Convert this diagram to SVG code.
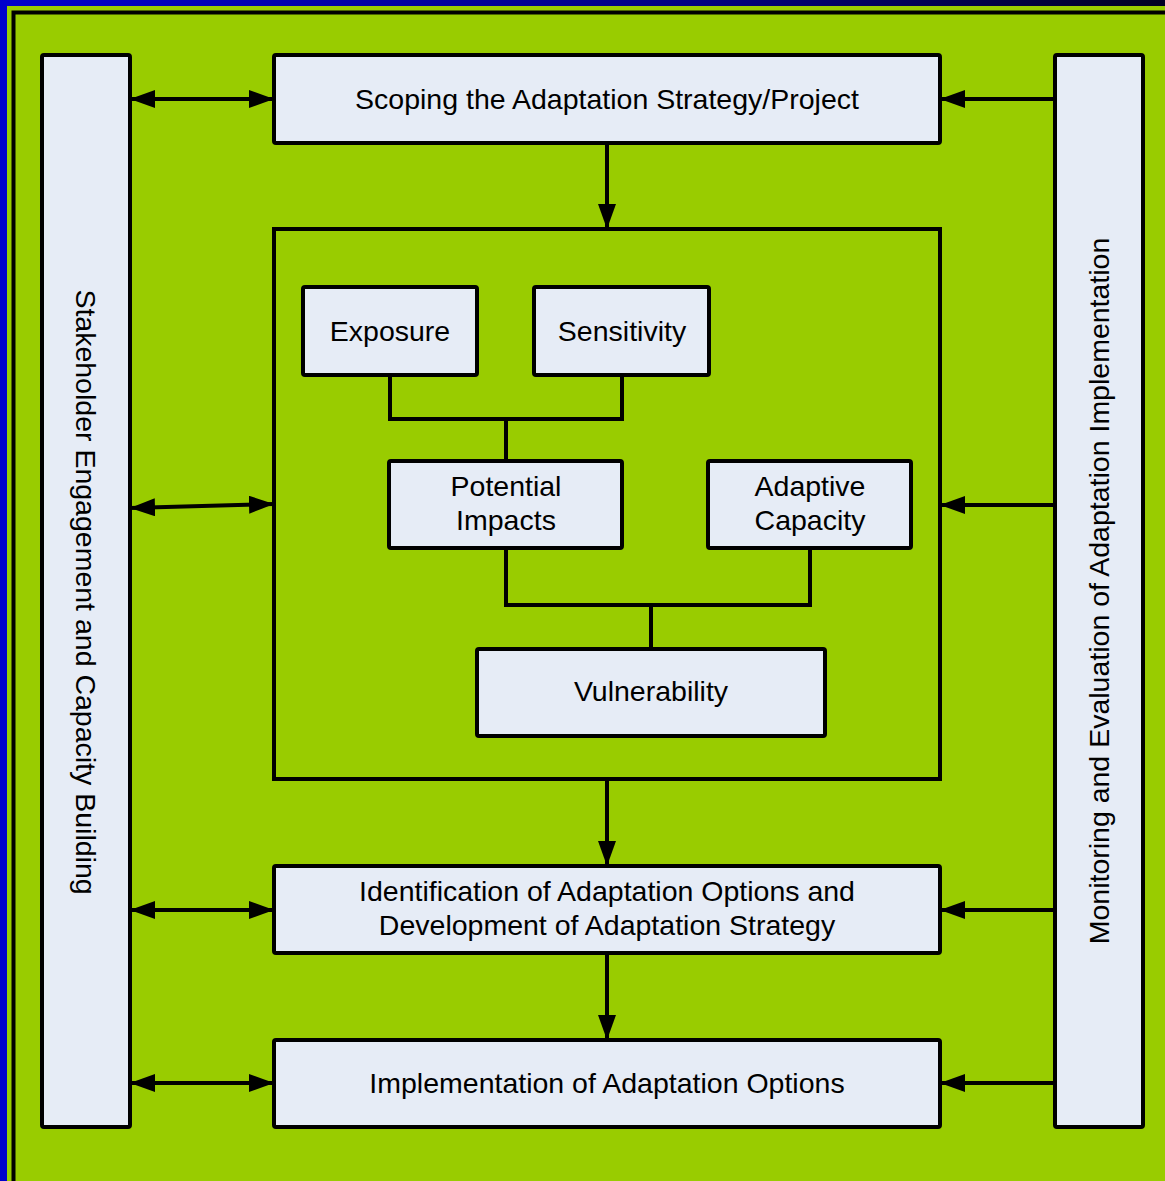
<svg xmlns="http://www.w3.org/2000/svg" width="1165" height="1181" viewBox="0 0 1165 1181">
<style>
.box{fill:#e6ecf6;stroke:#000;stroke-width:4;}
.frame{fill:none;stroke:#000;stroke-width:4;}
.ln{fill:none;stroke:#000;stroke-width:4;}
.t{font-family:"Liberation Sans",Arial,sans-serif;font-size:28.5px;fill:#000;text-anchor:middle;}
</style>
<defs>
<linearGradient id="topband" x1="0" y1="0" x2="1" y2="0">
<stop offset="0" stop-color="#0000cc"/>
<stop offset="0.6" stop-color="#000080"/>
<stop offset="1" stop-color="#000022"/>
</linearGradient>
<marker id="ah" viewBox="0 0 25 18" refX="25" refY="9" markerWidth="25" markerHeight="18" markerUnits="userSpaceOnUse" orient="auto-start-reverse">
<path d="M0,0 L25,9 L0,18 Z" fill="#000"/>
</marker>
</defs>
<rect x="0" y="0" width="1165" height="1181" fill="#0000cc"/>
<rect x="0" y="0" width="1165" height="7" fill="url(#topband)"/>
<rect x="7" y="6" width="1158" height="1175" fill="#99cc00"/>
<path d="M13.5,1181 V12.5 H1165" class="frame" stroke-width="3"/>

<g id="stakeholder">
<rect class="box" x="42" y="55" width="88" height="1072" rx="2"/>
<text class="t" transform="translate(86,592) rotate(90)" dy="10">Stakeholder Engagement and Capacity Building</text>
</g>
<g id="monitoring">
<rect class="box" x="1055" y="55" width="88" height="1072" rx="2"/>
<text class="t" transform="translate(1099,591) rotate(-90)" dy="10">Monitoring and Evaluation of Adaptation Implementation</text>
</g>
<g id="scoping">
<rect class="box" x="274" y="55" width="666" height="88" rx="2"/>
<text class="t" x="607" y="109">Scoping the Adaptation Strategy/Project</text>
</g>
<g id="assessment">
<rect class="frame" x="274" y="229" width="666" height="550"/>
</g>
<g id="exposure">
<rect class="box" x="303" y="287" width="174" height="88" rx="2"/>
<text class="t" x="390" y="341">Exposure</text>
</g>
<g id="sensitivity">
<rect class="box" x="534" y="287" width="175" height="88" rx="2"/>
<text class="t" x="622" y="341">Sensitivity</text>
</g>
<g id="potential">
<rect class="box" x="389" y="461" width="233" height="87" rx="2"/>
<text class="t" x="506" y="496">Potential</text>
<text class="t" x="506" y="530">Impacts</text>
</g>
<g id="adaptive">
<rect class="box" x="708" y="461" width="203" height="87" rx="2"/>
<text class="t" x="810" y="496">Adaptive</text>
<text class="t" x="810" y="530">Capacity</text>
</g>
<g id="vulnerability">
<rect class="box" x="477" y="649" width="348" height="87" rx="2"/>
<text class="t" x="651" y="701">Vulnerability</text>
</g>
<g id="identification">
<rect class="box" x="274" y="866" width="666" height="87" rx="2"/>
<text class="t" x="607" y="901">Identification of Adaptation Options and</text>
<text class="t" x="607" y="935">Development of Adaptation Strategy</text>
</g>
<g id="implementation">
<rect class="box" x="274" y="1040" width="666" height="87" rx="2"/>
<text class="t" x="607" y="1093">Implementation of Adaptation Options</text>
</g>

<g id="connectors">
<path class="ln" d="M390,375 V419 H622 V375 M506,419 V461"/>
<path class="ln" d="M506,548 V605 H810 V548 M651,605 V649"/>
<path class="ln" d="M607,143 V229" marker-end="url(#ah)"/>
<path class="ln" d="M607,779 V866" marker-end="url(#ah)"/>
<path class="ln" d="M607,953 V1040" marker-end="url(#ah)"/>
<path class="ln" d="M130,99 H274" marker-start="url(#ah)" marker-end="url(#ah)"/>
<path class="ln" d="M130,508 L274,504" marker-start="url(#ah)" marker-end="url(#ah)"/>
<path class="ln" d="M130,910 H274" marker-start="url(#ah)" marker-end="url(#ah)"/>
<path class="ln" d="M130,1083 H274" marker-start="url(#ah)" marker-end="url(#ah)"/>
<path class="ln" d="M1055,99 H940" marker-end="url(#ah)"/>
<path class="ln" d="M1055,505 H940" marker-end="url(#ah)"/>
<path class="ln" d="M1055,910 H940" marker-end="url(#ah)"/>
<path class="ln" d="M1055,1083 H940" marker-end="url(#ah)"/>
</g>
</svg>
